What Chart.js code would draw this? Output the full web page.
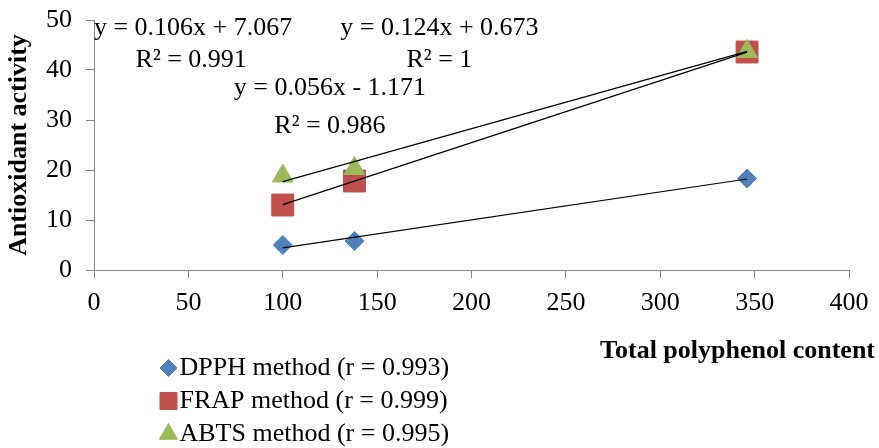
<!DOCTYPE html>
<html><head><meta charset="utf-8">
<script src="https://cdn.jsdelivr.net/npm/chart.js@4.4.1/dist/chart.umd.min.js"></script>
<style>html,body{margin:0;padding:0;background:#fff}#wrap{width:879px;height:448px;position:relative}</style>
</head><body><div id="wrap"><canvas id="c"></canvas></div>
<script>
// ---- data ----
const seriesNames = ['DPPH method (r = 0.993)', 'FRAP method (r = 0.999)', 'ABTS method (r = 0.995)'];
const polyphenol = [100, 138, 346];
const dpph = [5.0, 5.8, 18.3];
const frap = [13.0, 17.8, 43.6];
const abts = [18.8, 20.3, 43.7];
const trendX = [100, 346];
const dpphTrend = [4.43, 18.2];
const frapTrend = [13.07, 43.58];
const abtsTrend = [17.67, 43.74];
const equations = ['y = 0.056x - 1.171', 'y = 0.124x + 0.673', 'y = 0.106x + 7.067'];
const rSquared = ['R² = 0.986', 'R² = 1', 'R² = 0.991'];
const xTitle = 'Total polyphenol content';
const yTitle = 'Antioxidant activity';

// ---- layout / style (not data) ----
const FONT = '"Liberation Serif", "Times New Roman", serif';
const colors = ['#4F81BD', '#C0504D', '#9BBB59'];
const styles = ['rectRot', 'rect', 'triangle'];
const radii = [9.5, 15.5, 12];
const legendRadii = [8.5, 12, 10.5];
const drawOrder = [3, 2, 1];                            // later series drawn on top
const eqPos = [[125, 35], [183, 47], [52.5, 47]];      // label anchor in data units
const r2Pos = [[125, 27.4], [183, 40.6], [51.5, 40.6]];

const pts = (xs, ys) => xs.map((x, i) => ({x, y: ys[i]}));
const seriesValues = [dpph, frap, abts];
const trendValues = [dpphTrend, frapTrend, abtsTrend];

const datasets = [];
trendValues.forEach((t, i) => datasets.push({
  label: 'trend' + i, isTrend: true, order: 0, data: pts(trendX, t), showLine: true,
  borderColor: '#000', borderWidth: 1.2, pointRadius: 0, pointHoverRadius: 0, fill: false
}));
seriesValues.forEach((v, i) => datasets.push({
  label: seriesNames[i], order: drawOrder[i], data: pts(polyphenol, v), showLine: false,
  pointStyle: styles[i], pointRadius: radii[i], pointHoverRadius: radii[i],
  backgroundColor: colors[i], borderColor: colors[i], borderWidth: 1, legendRadius: legendRadii[i]
}));

function drawMarker(ctx, style, r, x, y) {
  ctx.beginPath();
  if (style === 'rectRot') {
    ctx.moveTo(x - r, y); ctx.lineTo(x, y - r); ctx.lineTo(x + r, y); ctx.lineTo(x, y + r);
  } else if (style === 'rect') {
    const s = r * Math.SQRT1_2; ctx.rect(x - s, y - s, 2 * s, 2 * s);
  } else {
    ctx.moveTo(x, y - r);
    ctx.lineTo(x + r * Math.sin(2 * Math.PI / 3), y - r * Math.cos(2 * Math.PI / 3));
    ctx.lineTo(x + r * Math.sin(4 * Math.PI / 3), y - r * Math.cos(4 * Math.PI / 3));
  }
  ctx.closePath(); ctx.fill(); ctx.stroke();
}

const extras = {
  id: 'extras',
  afterDatasetsDraw(chart) {
    const ctx = chart.ctx, xs = chart.scales.x, ys = chart.scales.y;
    ctx.save();
    ctx.fillStyle = '#000';
    ctx.font = '26px ' + FONT;
    ctx.textAlign = 'center';
    ctx.textBaseline = 'alphabetic';
    equations.forEach((t, i) => ctx.fillText(t, xs.getPixelForValue(eqPos[i][0]), ys.getPixelForValue(eqPos[i][1])));
    rSquared.forEach((t, i) => ctx.fillText(t, xs.getPixelForValue(r2Pos[i][0]), ys.getPixelForValue(r2Pos[i][1])));
    ctx.restore();
  },
  afterDraw(chart) {
    const ctx = chart.ctx, area = chart.chartArea;
    ctx.save();
    ctx.fillStyle = '#000';
    ctx.font = 'bold 26px ' + FONT;
    ctx.textAlign = 'right';
    ctx.textBaseline = 'alphabetic';
    ctx.fillText(xTitle, area.right + 26, area.bottom + 88);
    const lx = 168.5, ly0 = 368, step = 33;
    let row = 0;
    chart.data.datasets.forEach(ds => {
      if (ds.isTrend) return;
      const y = ly0 + row * step;
      ctx.fillStyle = ds.backgroundColor; ctx.strokeStyle = ds.borderColor; ctx.lineWidth = 1;
      drawMarker(ctx, ds.pointStyle, ds.legendRadius, lx, y);
      ctx.fillStyle = '#000';
      ctx.font = '26px ' + FONT;
      ctx.textAlign = 'left';
      ctx.textBaseline = 'middle';
      ctx.fillText(ds.label, lx + 11, y);
      row++;
    });
    ctx.restore();
  }
};

const axisGray = '#868686';
new Chart(document.getElementById('c'), {
  type: 'scatter',
  data: { datasets },
  plugins: [extras],
  options: {
    responsive: true, maintainAspectRatio: false, animation: false,
    layout: { padding: { top: 20, right: 30, bottom: 0, left: 0 } },
    plugins: { legend: { display: false }, tooltip: { enabled: false } },
    scales: {
      x: {
        type: 'linear', min: 0, max: 400,
        ticks: { stepSize: 50, color: '#000', font: { family: FONT, size: 26 }, padding: 10, maxRotation: 0 },
        grid: { drawOnChartArea: false, drawTicks: true, tickLength: 8, color: axisGray, lineWidth: 1 },
        border: { color: axisGray, width: 1 },
        afterFit: s => { s.height = 178; }
      },
      y: {
        type: 'linear', min: 0, max: 50,
        ticks: { stepSize: 10, color: '#000', font: { family: FONT, size: 26, lineHeight: 0.4 }, padding: 14 },
        grid: { drawOnChartArea: false, drawTicks: true, tickLength: 8, color: axisGray, lineWidth: 1 },
        border: { color: axisGray, width: 1 },
        title: { display: true, text: yTitle, color: '#000', font: { family: FONT, size: 26, weight: 'bold' }, padding: { top: 4, bottom: 0 } },
        afterFit: s => { s.width = 94; }
      }
    }
  }
});
</script>
</body></html>
